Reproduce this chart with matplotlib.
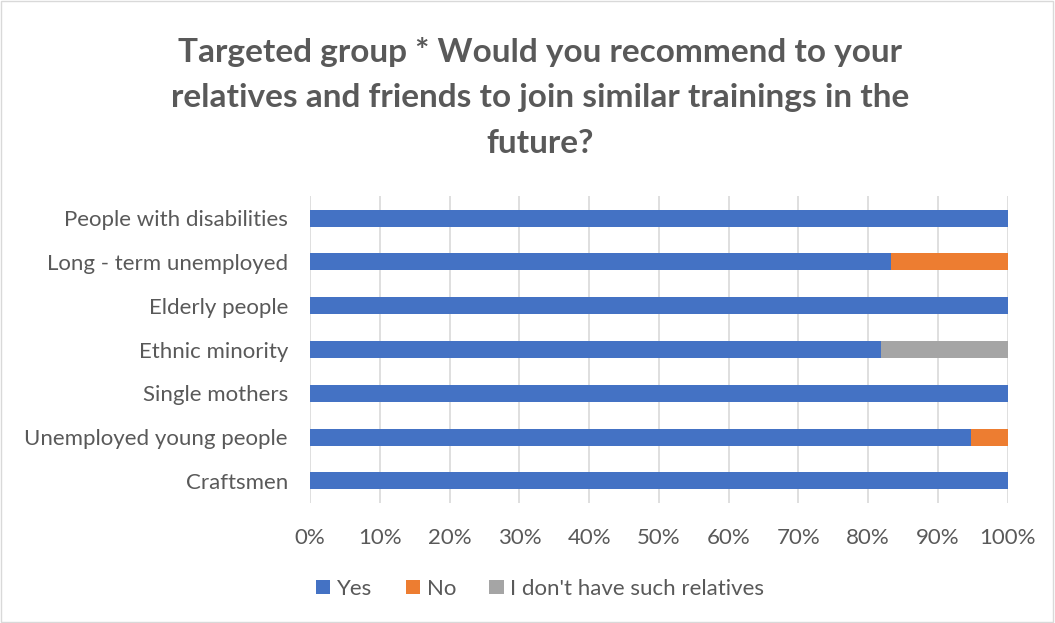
import numpy as np
import matplotlib.pyplot as plt
from matplotlib.patches import Rectangle

# Survey answers per targeted group (percent of respondents)
groups = ['Craftsmen', 'Unemployed young people', 'Single mothers',
          'Ethnic minority', 'Elderly people', 'Long - term unemployed',
          'People with disabilities']
yes = [100.0, 94.7, 100.0, 81.8, 100.0, 83.3, 100.0]
no = [0.0, 5.3, 0.0, 0.0, 0.0, 16.7, 0.0]
no_relatives = [0.0, 0.0, 0.0, 18.2, 0.0, 0.0, 0.0]

series = ['Yes', 'No', "I don't have such relatives"]
colors = ['#4472C4', '#ED7D31', '#A5A5A5']
text_color = '#595959'

plt.rcParams['font.family'] = ['Lato', 'DejaVu Sans']

fig = plt.figure(figsize=(10.55, 6.23), dpi=100)
ax = fig.add_axes([0.294, 0.193, 0.661, 0.492])

y = np.arange(len(groups))
left = np.zeros(len(groups))
for vals, name, c in zip([yes, no, no_relatives], series, colors):
    ax.barh(y, vals, left=left, height=0.39, color=c, label=name, zorder=3)
    left += np.array(vals)

ax.set_xlim(0, 100)
ax.set_ylim(-0.5, len(groups) - 0.5)
ax.set_xticks(np.arange(0, 101, 10))
ax.set_xticklabels([f'{v}%' for v in range(0, 101, 10)])
ax.set_yticks(y)
ax.set_yticklabels(groups)
ax.tick_params(axis='both', length=0, labelsize=16, colors=text_color)
ax.tick_params(axis='x', pad=18)
ax.tick_params(axis='y', pad=16)
ax.grid(axis='x', color='#D9D9D9', linewidth=1.2, zorder=0)
for s in ax.spines.values():
    s.set_visible(False)

fig.text(0.512, 0.844, 'Targeted group * Would you recommend to your\n'
         'relatives and friends to join similar trainings in the\nfuture?',
         ha='center', va='center', fontsize=24, fontweight='bold',
         color=text_color, linespacing=1.68)

fig.legend(loc='center', bbox_to_anchor=(0.512, 0.055), ncol=3, frameon=False,
           fontsize=16, labelcolor=text_color, handlelength=0.65,
           handleheight=0.65, handletextpad=0.3, columnspacing=1.5)

# thin chart border
fig.patches.append(Rectangle((0.001, 0.002), 0.997, 0.996, transform=fig.transFigure,
                             fill=False, edgecolor='#D9D9D9', linewidth=1))

fig.savefig('out.png', dpi=100)
